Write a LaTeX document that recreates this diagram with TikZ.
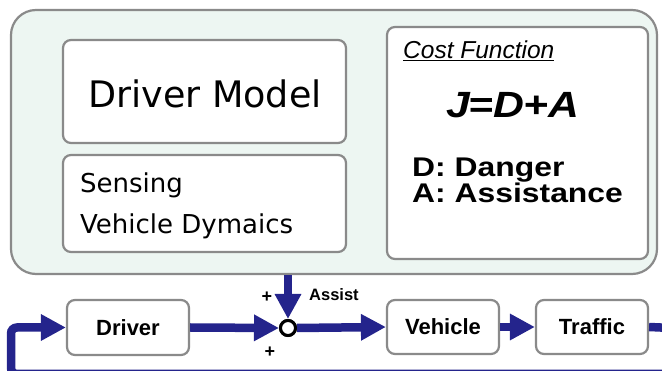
\documentclass[tikz,border=0pt]{standalone}
\usepackage{graphicx}
\usepackage{fontspec}
\setmainfont{Liberation Sans}
\newfontfamily\dv{DejaVu Sans}
\usetikzlibrary{arrows.meta}
\definecolor{mint}{RGB}{237,246,242}
\definecolor{frame}{RGB}{138,138,138}
\definecolor{navy}{RGB}{36,36,140}
\tikzset{
  panel/.style={draw=frame, line width=2.2pt, fill=white, rounded corners=8pt, inner sep=0pt},
  blockbox/.style={panel, font=\fontsize{22}{26}\selectfont\bfseries},
  flow/.style={draw=navy, line width=8.5pt, -{Triangle[length=25pt,width=25pt]}},
  signlbl/.style={font=\fontsize{18}{20}\selectfont\bfseries, inner sep=0pt},
  txt/.style={anchor=base west, inner sep=0pt}
}
\begin{document}
\begin{tikzpicture}[x=1pt,y=-1pt]
\useasboundingbox (0,0) rectangle (662,371);
\clip (0,0) rectangle (662,371);
% outer container
\node[draw=frame, line width=2.2pt, fill=mint, rounded corners=25pt,
      minimum width=646pt, minimum height=264pt, inner sep=0pt] (outer) at (334,142) {};
% inner panels
\node[panel, minimum width=283pt, minimum height=103pt] (dm) at (204.5,91.5) {};
\node[panel, minimum width=283pt, minimum height=97pt] (sens) at (204.5,203.5) {};
\node[panel, minimum width=261pt, minimum height=232pt] (cost) at (517.5,143) {};
% texts
\node[anchor=base, inner sep=0pt, font=\dv\fontsize{36.5}{40}\selectfont] (dmt) at (205,108) {Driver Model};
\node[txt, font=\dv\fontsize{26}{26}\selectfont] (s1) at (80,193) {Sensing};
\node[txt, font=\dv\fontsize{26}{26}\selectfont] (s2) at (80,234) {Vehicle Dymaics};
\node[txt, font=\fontsize{24.5}{26}\selectfont\itshape] (cf) at (403,59) {\underline{Cost Function}};
\node[txt, font=\fontsize{36.5}{40}\selectfont\bfseries\itshape] (eq) at (446,117.5) {\scalebox{1.17}[1]{J\kern-1.5pt=D+A}};
\node[txt, font=\fontsize{27}{28}\selectfont\bfseries] (dd) at (412,177) {\scalebox{1.18}[1]{D: Danger}};
\node[txt, font=\fontsize{27}{28}\selectfont\bfseries] (aa) at (412,203) {\scalebox{1.18}[1]{A: Assistance}};
% bottom loop
\node[blockbox, minimum width=122pt, minimum height=55pt] (drv) at (128,327.5) {Driver};
\node[blockbox, minimum width=112pt, minimum height=54pt] (veh) at (443,327) {Vehicle};
\node[blockbox, minimum width=112pt, minimum height=54pt] (trf) at (592,327) {Traffic};
\node[circle, draw=black, line width=3pt, fill=white, minimum size=15pt, inner sep=0pt] (sum) at (288,328) {};
\coordinate (fbR) at (672,328);
\coordinate (fbB) at (11,374);
\draw[flow] (drv.east) -- (sum.west);
\draw[flow] (sum.east) -- (veh.west);
\draw[flow] (veh.east) -- (trf.west);
\draw[flow, rounded corners=6pt] (trf.east) -- (fbR) |- (fbB) |- (drv.west);
\draw[flow] (sum |- outer.south) -- (sum.north);
\node[circle, draw=black, line width=3pt, fill=white, minimum size=15pt, inner sep=0pt] at (sum) {};
% labels
\node[txt, font=\fontsize{16.5}{18}\selectfont\bfseries] (asl) at (309,301) {Assist};
\node[signlbl] (p1) at (267,297) {+};
\node[signlbl] (p2) at (270,352) {+};
\end{tikzpicture}
\end{document}
